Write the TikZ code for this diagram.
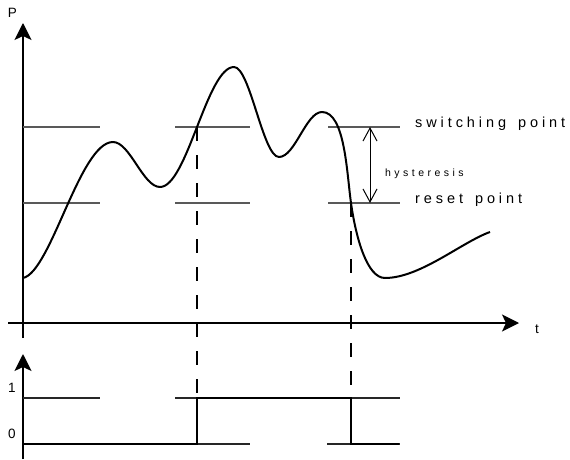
\documentclass[tikz,border=0pt]{standalone}
\usepackage{fontspec}
\setmainfont{Liberation Sans}
\usetikzlibrary{arrows.meta}
\begin{document}
\begin{tikzpicture}[x=1pt,y=1pt,
  axis/.style={line width=1.4pt,-{Stealth[length=17pt,width=17pt,inset=4pt]}},
  level/.style={line width=1.1pt,black!65},
  thinlevel/.style={line width=1.1pt,black!85},
  signal/.style={line width=2.4pt,line cap=butt},
  curve/.style={line width=2pt,line join=round},
  dashline/.style={line width=1.2pt,dash pattern=on 14pt off 14pt},
  hyst/.style={line width=1pt,{Straight Barb[length=13pt,width=14pt]}-{Straight Barb[length=13pt,width=14pt]}},
  axlabel/.style={inner sep=0pt,font=\fontsize{13.5}{16}\selectfont},
  bigtext/.style={inner sep=0pt,anchor=base west,font=\fontsize{14.5}{17}\selectfont\addfontfeatures{LetterSpace=27}},
  smalltext/.style={inner sep=0pt,anchor=base west,font=\fontsize{10.5}{13}\selectfont\addfontfeatures{LetterSpace=33}}]
\useasboundingbox (0,0) rectangle (570,459);

% axes
\coordinate (ybot) at (23,121);
\coordinate (ytop) at (23,436);
\coordinate (tleft) at (8,136);
\coordinate (tright) at (519,136);
\coordinate (y2bot) at (23,0);
\coordinate (y2top) at (23,105);
\draw[axis] (ybot) -- (ytop);
\draw[axis] (tleft) -- (tright);
\draw[axis] (y2bot) -- (y2top);
\node[axlabel] (P) at (12.5,446) {P};
\node[axlabel] (t) at (537,130) {t};
\node[axlabel] (one) at (12,71) {1};
\node[axlabel] (zero) at (12,25) {0};

% level lines (top)
\foreach \yy in {332,256}{
  \draw[level] (23,\yy) -- (100,\yy);
  \draw[level] (175,\yy) -- (250,\yy);
  \draw[level] (328,\yy) -- (400,\yy);
}

% crossing points
\coordinate (c1) at (197,332);
\coordinate (c2) at (351,256);
\coordinate (d1) at (197,61);
\coordinate (d2) at (351,61);

% dashed lines
\draw[dashline] (c1) -- (d1);
\draw[dashline] (c2) -- (d2);

% curve
\coordinate (s0) at (23,181);
\coordinate (pk1) at (113,317);
\coordinate (dp1) at (160,272);
\coordinate (pk2) at (234,392);
\coordinate (dp2) at (279,302);
\coordinate (pk3) at (322,347);
\coordinate (mn) at (385,181);
\coordinate (e0) at (490,227);
\draw[curve] (s0) .. controls (51,187) and (80,317) .. (pk1)
  .. controls (130,317) and (143,272) .. (dp1)
  .. controls (187,272) and (207,392) .. (pk2)
  .. controls (250,392) and (263,302) .. (dp2)
  .. controls (295,302) and (306,347) .. (pk3)
  .. controls (345,347) and (346.8,285.7) .. (c2)
  .. controls (355.9,221.3) and (367,181) .. (mn)
  .. controls (420,181) and (462,217) .. (e0);

% hysteresis arrow
\coordinate (h1) at (370,332);
\coordinate (h2) at (370,256);
\draw[hyst] (h1) -- (h2);
\node[smalltext] (hys) at (385,283) {hysteresis};
\node[bigtext] (sw) at (415,332) {switching\ \kern4pt point};
\node[bigtext] (rs) at (415,256) {reset\ \kern4pt point};

% bottom levels
\draw[thinlevel] (23,61) -- (100,61);
\draw[thinlevel] (175,61) -- (400,61);
\draw[thinlevel] (197,15) -- (250,15);
\draw[thinlevel] (327,15) -- (400,15);
\draw[signal] (23,15) -- (197,15) -- (d1) -- (d2) -- (351,15) -- (399,15);
\end{tikzpicture}
\end{document}
